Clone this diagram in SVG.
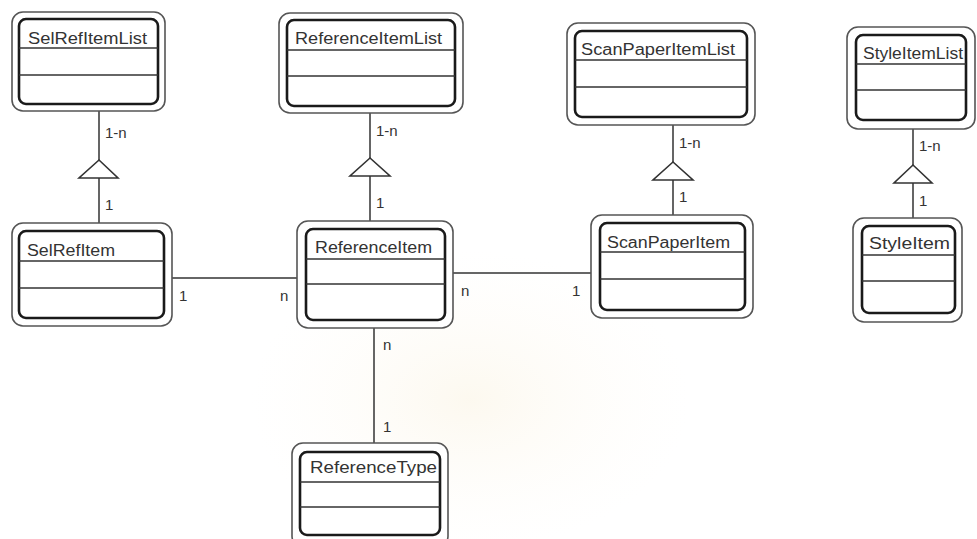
<svg xmlns="http://www.w3.org/2000/svg" width="977" height="539" viewBox="0 0 977 539">
  <defs>
    <style>
      .outer { fill: #fff; stroke: #555; stroke-width: 1.6; }
      .inner { fill: #fff; stroke: #1a1a1a; stroke-width: 2.6; }
      .div { stroke: #333; stroke-width: 1.5; }
      .name { font-family: "Liberation Sans", Arial, sans-serif; font-size: 16px; fill: #333; }
      .lbl { font-family: "Liberation Sans", Arial, sans-serif; font-size: 15px; fill: #333; }
      .conn { fill: none; stroke: #333; stroke-width: 1.5; }
      .tri { fill: #fff; stroke: #333; stroke-width: 1.6; }
    </style>
    <radialGradient id="glow" cx="0.5" cy="0.5" r="0.5">
      <stop offset="0" stop-color="#f8edd2" stop-opacity="0.35"/>
      <stop offset="1" stop-color="#fdf8ee" stop-opacity="0"/>
    </radialGradient>
  </defs>

  <rect width="977" height="539" fill="#fff"/>
  <!-- faint background emblem -->
  <ellipse cx="470" cy="400" rx="220" ry="150" fill="url(#glow)"/>

  <!-- connectors -->
  <g id="connectors">
    <path class="conn" d="M99 111 V160 M99 178 V223"/>
    <polygon class="tri" points="99,160 79,178 118,178"/>
    <path class="conn" d="M370 113 V158 M370 176 V221"/>
    <polygon class="tri" points="370,158 350,176 390,176"/>
    <path class="conn" d="M673 125 V162 M673 180 V215"/>
    <polygon class="tri" points="673,162 653,180 693,180"/>
    <path class="conn" d="M913 129 V165 M913 183 V218"/>
    <polygon class="tri" points="913,165 894,183 932,183"/>
    <path class="conn" d="M172 278 H297"/>
    <path class="conn" d="M453 273 H591"/>
    <path class="conn" d="M374 328 V443"/>

    <text class="lbl" x="105" y="138">1-n</text>
    <text class="lbl" x="105" y="210">1</text>
    <text class="lbl" x="376" y="136">1-n</text>
    <text class="lbl" x="376" y="208">1</text>
    <text class="lbl" x="679" y="148">1-n</text>
    <text class="lbl" x="679" y="202">1</text>
    <text class="lbl" x="919" y="151">1-n</text>
    <text class="lbl" x="919" y="206">1</text>
    <text class="lbl" x="179" y="301">1</text>
    <text class="lbl" x="280" y="301">n</text>
    <text class="lbl" x="461" y="296">n</text>
    <text class="lbl" x="572" y="296">1</text>
    <text class="lbl" x="383" y="350">n</text>
    <text class="lbl" x="383" y="432">1</text>
  </g>

  <g id="SelRefItemList">
    <rect class="outer" x="12" y="12" width="153" height="99" rx="11"/>
    <rect class="inner" x="19" y="19" width="139" height="85" rx="7"/>
    <line class="div" x1="19" y1="48" x2="158" y2="48"/>
    <line class="div" x1="19" y1="75" x2="158" y2="75"/>
    <text class="name" x="28" y="44" textLength="119" lengthAdjust="spacingAndGlyphs">SelRefItemList</text>
  </g>

  <g id="ReferenceItemList">
    <rect class="outer" x="279" y="13" width="184" height="100" rx="11"/>
    <rect class="inner" x="287" y="20" width="168" height="86" rx="7"/>
    <line class="div" x1="287" y1="50" x2="455" y2="50"/>
    <line class="div" x1="287" y1="76" x2="455" y2="76"/>
    <text class="name" x="295" y="44" textLength="147" lengthAdjust="spacingAndGlyphs">ReferenceItemList</text>
  </g>

  <g id="ScanPaperItemList">
    <rect class="outer" x="567" y="23" width="188" height="102" rx="11"/>
    <rect class="inner" x="575" y="31" width="172" height="86" rx="7"/>
    <line class="div" x1="575" y1="60" x2="747" y2="60"/>
    <line class="div" x1="575" y1="87" x2="747" y2="87"/>
    <text class="name" x="581" y="55" textLength="154" lengthAdjust="spacingAndGlyphs">ScanPaperItemList</text>
  </g>

  <g id="StyleItemList">
    <rect class="outer" x="847" y="27" width="128" height="102" rx="11"/>
    <rect class="inner" x="856" y="35" width="110" height="85" rx="7"/>
    <line class="div" x1="856" y1="64" x2="966" y2="64"/>
    <line class="div" x1="856" y1="90" x2="966" y2="90"/>
    <text class="name" x="863" y="59" textLength="100" lengthAdjust="spacingAndGlyphs">StyleItemList</text>
  </g>

  <g id="SelRefItem">
    <rect class="outer" x="12" y="223" width="160" height="103" rx="11"/>
    <rect class="inner" x="19" y="231" width="145" height="87" rx="7"/>
    <line class="div" x1="19" y1="261" x2="164" y2="261"/>
    <line class="div" x1="19" y1="288" x2="164" y2="288"/>
    <text class="name" x="27" y="256" textLength="88" lengthAdjust="spacingAndGlyphs">SelRefItem</text>
  </g>

  <g id="ReferenceItem">
    <rect class="outer" x="297" y="221" width="156" height="107" rx="11"/>
    <rect class="inner" x="306" y="229" width="139" height="91" rx="7"/>
    <line class="div" x1="306" y1="259" x2="445" y2="259"/>
    <line class="div" x1="306" y1="284" x2="445" y2="284"/>
    <text class="name" x="315" y="253" textLength="117" lengthAdjust="spacingAndGlyphs">ReferenceItem</text>
  </g>

  <g id="ScanPaperItem">
    <rect class="outer" x="591" y="215" width="162" height="103" rx="11"/>
    <rect class="inner" x="600" y="223" width="145" height="87" rx="7"/>
    <line class="div" x1="600" y1="252" x2="745" y2="252"/>
    <line class="div" x1="600" y1="279" x2="745" y2="279"/>
    <text class="name" x="607" y="248" textLength="123" lengthAdjust="spacingAndGlyphs">ScanPaperItem</text>
  </g>

  <g id="StyleItem">
    <rect class="outer" x="853" y="218" width="109" height="104" rx="11"/>
    <rect class="inner" x="862" y="226" width="93" height="87" rx="7"/>
    <line class="div" x1="862" y1="255" x2="955" y2="255"/>
    <line class="div" x1="862" y1="281" x2="955" y2="281"/>
    <text class="name" x="869" y="249" textLength="81" lengthAdjust="spacingAndGlyphs">StyleItem</text>
  </g>

  <g id="ReferenceType">
    <rect class="outer" x="292" y="443" width="156" height="104" rx="11"/>
    <rect class="inner" x="300" y="452" width="140" height="83" rx="7"/>
    <line class="div" x1="300" y1="482" x2="440" y2="482"/>
    <line class="div" x1="300" y1="507" x2="440" y2="507"/>
    <text class="name" x="310" y="473" textLength="127" lengthAdjust="spacingAndGlyphs">ReferenceType</text>
  </g>
</svg>
